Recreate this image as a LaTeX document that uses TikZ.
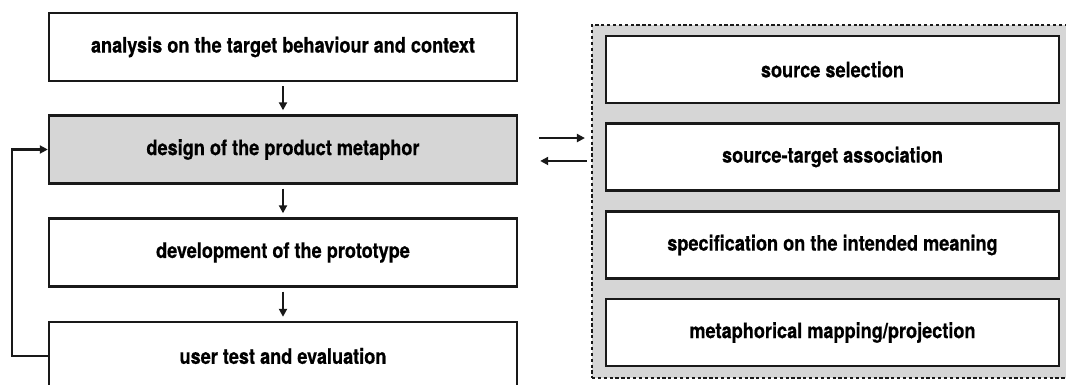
\documentclass[tikz,border=0pt]{standalone}
\usepackage{fontspec}
\setmainfont{TeX Gyre Heros}[FakeStretch=0.85,BoldFeatures={FakeBold=0.6}]
\usepackage{xcolor}
\definecolor{ColFill}{RGB}{214,214,214}
\definecolor{ColLine}{RGB}{25,25,25}
\usetikzlibrary{arrows.meta}
\tikzstyle{Box}=[rectangle,draw=ColLine,line width=1.8pt,fill=white,
inner sep=0pt,text=black,font=\fontsize{16}{18}\selectfont\bfseries]
\tikzstyle{Stage}=[Box,minimum width=351pt,minimum height=51pt]
\tikzstyle{SubStage}=[Box,minimum width=340pt,minimum height=50pt]
\tikzstyle{Frame}=[rectangle,draw=ColLine,fill=ColFill,line width=1.6pt,
dash pattern=on 2.4pt off 2pt,minimum width=358.5pt,minimum height=264.75pt]
\tikzstyle{Edge}=[draw=ColLine,line width=1.8pt,
-{Triangle[length=6pt,width=6pt]}]

\begin{document}
\begin{tikzpicture}[x=0.75pt,y=-0.75pt]
        \useasboundingbox(0,0)rectangle(1066,385);
        \clip(0,0)rectangle(1066,385);
        % right part
        \node[Frame](frame)at(831.00,201.50){};
        \node[SubStage](selection)at(832.50,69.50){source selection};
        \node[SubStage](association)at(832.50,157.00){source-target association};
        \node[SubStage](meaning)at(832.50,245.00){specification on the intended meaning};
        \node[SubStage](mapping)at(832.50,332.50){metaphorical mapping/projection};
        % left part
        \node[Stage](analysis)at(283.00,47.00){analysis on the target behaviour and context};
        \node[Stage,fill=ColFill](design)at(283.00,149.50){design of the product metaphor};
        \node[Stage](development)at(283.00,252.50){development of the prototype};
        \node[Stage](test)at(283.00,356.00){user test and evaluation};
        \draw[Edge,shorten <=3pt,shorten >=3pt](analysis)--(design);
        \draw[Edge,shorten <=3pt,shorten >=3pt](design)--(development);
        \draw[Edge,shorten <=3pt,shorten >=3pt](development)--(test);
        \draw[Edge](test.west)--++(-36,0)|-(design.west);
        \draw[Edge,shorten <=15.75pt,shorten >=4.5pt]
            ([yshift=8.6pt]design.east)--([yshift=8.6pt]design.east-|frame.west);
        \draw[Edge,shorten <=3pt,shorten >=16.5pt]
            ([yshift=-8.6pt]design.east-|frame.west)--([yshift=-8.6pt]design.east);
    \end{tikzpicture}
\end{document}
